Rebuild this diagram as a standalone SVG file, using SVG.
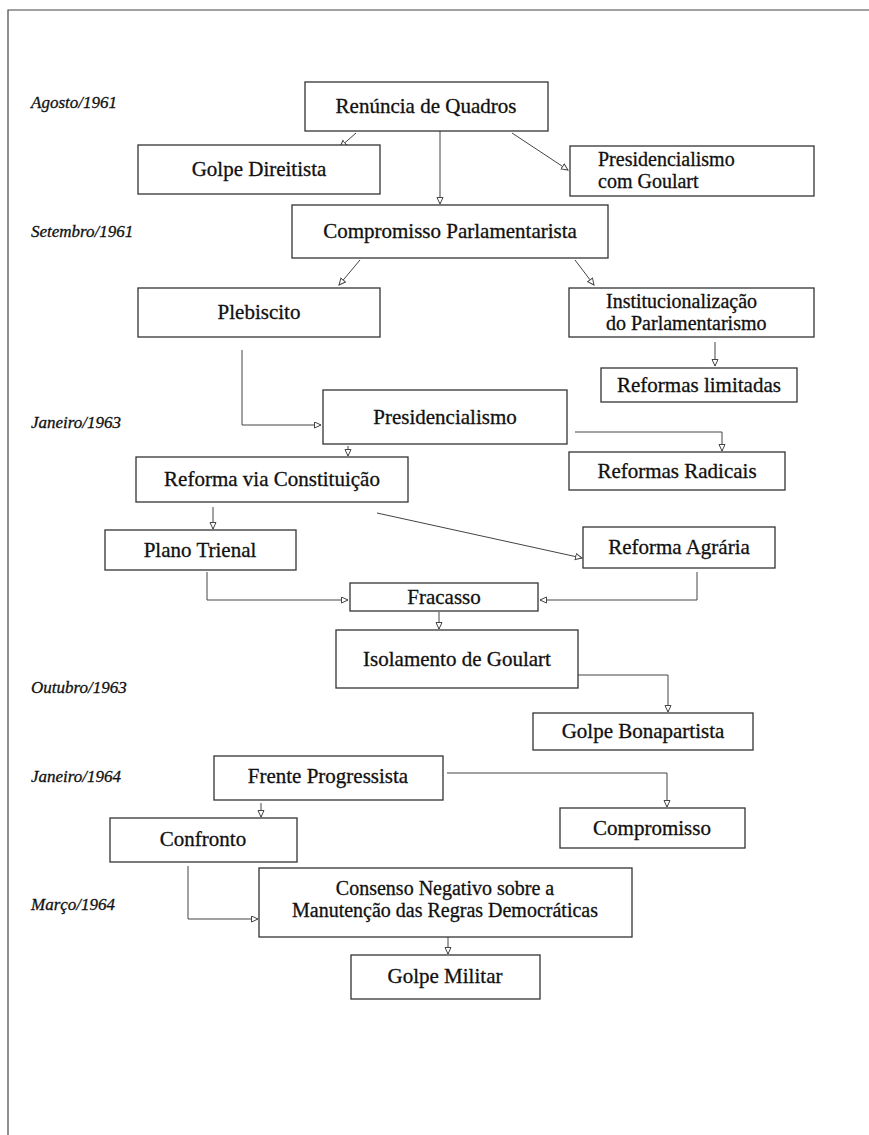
<svg xmlns="http://www.w3.org/2000/svg" width="869" height="1135" viewBox="0 0 869 1135">
<style>
.box{fill:#fff;stroke:#333;stroke-width:1.3}
.lbl{font-family:"Liberation Serif","DejaVu Serif",serif;font-size:21px;fill:#111;stroke:#111;stroke-width:0.3;text-anchor:middle}
.lbl2{font-family:"Liberation Serif","DejaVu Serif",serif;font-size:20px;fill:#111;stroke:#111;stroke-width:0.3}
.lbl3{font-family:"Liberation Serif","DejaVu Serif",serif;font-size:20px;fill:#111;stroke:#111;stroke-width:0.3;text-anchor:middle}
.date{font-family:"Liberation Serif","DejaVu Serif",serif;font-size:17px;font-style:italic;fill:#111;stroke:#111;stroke-width:0.3}
.con{fill:none;stroke:#444;stroke-width:1;marker-end:url(#arr)}
</style>
<defs>
<marker id="arr" markerWidth="8" markerHeight="8" refX="7" refY="3.5" orient="auto" markerUnits="userSpaceOnUse">
<path d="M0.5,0.5 L7,3.5 L0.5,6.5 z" fill="#fff" stroke="#444" stroke-width="1"/>
</marker>
</defs>
<rect width="869" height="1135" fill="#fff"/>
<path d="M8,1135 V10 H869" fill="none" stroke="#444" stroke-width="1.2"/>
<g id="dates">
<text class="date" x="31" y="108">Agosto/1961</text>
<text class="date" x="31" y="237">Setembro/1961</text>
<text class="date" x="31" y="428">Janeiro/1963</text>
<text class="date" x="31" y="693">Outubro/1963</text>
<text class="date" x="31" y="782">Janeiro/1964</text>
<text class="date" x="31" y="910">Março/1964</text>
</g>
<g id="connectors">
<path class="con" d="M356,133 L340,147"/>
<path class="con" d="M440,131 V204"/>
<path class="con" d="M512,133 L568,170"/>
<path class="con" d="M360,260 L339,285"/>
<path class="con" d="M575,260 L594,285"/>
<path class="con" d="M242,350 V425 H321"/>
<path class="con" d="M715,342 V366"/>
<path class="con" d="M575,432 H722 V451"/>
<path class="con" d="M348,446 V456"/>
<path class="con" d="M213,507 V529"/>
<path class="con" d="M377,513 L582,558"/>
<path class="con" d="M207,572 V600 H348"/>
<path class="con" d="M697,572 V600 H540"/>
<path class="con" d="M439,612 V629"/>
<path class="con" d="M577,675 H668 V712"/>
<path class="con" d="M447,773 H667 V807"/>
<path class="con" d="M261,803 V817"/>
<path class="con" d="M188,866 V919 H258"/>
<path class="con" d="M448,937 V954"/>
</g>
<g id="n1"><rect class="box" x="305" y="82" width="243" height="49"/><text class="lbl" x="426" y="113">Renúncia de Quadros</text></g>
<g id="n2"><rect class="box" x="138" y="145" width="242" height="49"/><text class="lbl" x="259" y="176">Golpe Direitista</text></g>
<g id="n3"><rect class="box" x="570" y="146" width="244" height="50"/><text class="lbl2" x="598" y="166">Presidencialismo</text><text class="lbl2" x="598" y="188">com Goulart</text></g>
<g id="n4"><rect class="box" x="292" y="205" width="316" height="53"/><text class="lbl" x="450" y="238">Compromisso Parlamentarista</text></g>
<g id="n5"><rect class="box" x="138" y="288" width="242" height="49"/><text class="lbl" x="259" y="319">Plebiscito</text></g>
<g id="n6"><rect class="box" x="569" y="288" width="245" height="49"/><text class="lbl2" x="606" y="308">Institucionalização</text><text class="lbl2" x="606" y="330">do Parlamentarismo</text></g>
<g id="n7"><rect class="box" x="601" y="368" width="196" height="34"/><text class="lbl" x="699" y="392">Reformas limitadas</text></g>
<g id="n8"><rect class="box" x="323" y="390" width="244" height="54"/><text class="lbl" x="445" y="424">Presidencialismo</text></g>
<g id="n9"><rect class="box" x="569" y="452" width="216" height="38"/><text class="lbl" x="677" y="478">Reformas Radicais</text></g>
<g id="n10"><rect class="box" x="136" y="457" width="272" height="45"/><text class="lbl" x="272" y="486">Reforma via Constituição</text></g>
<g id="n11"><rect class="box" x="105" y="530" width="191" height="40"/><text class="lbl" x="200" y="557">Plano Trienal</text></g>
<g id="n12"><rect class="box" x="583" y="527" width="192" height="41"/><text class="lbl" x="679" y="554">Reforma Agrária</text></g>
<g id="n13"><rect class="box" x="350" y="583" width="188" height="28"/><text class="lbl" x="444" y="604">Fracasso</text></g>
<g id="n14"><rect class="box" x="336" y="630" width="242" height="58"/><text class="lbl" x="457" y="666">Isolamento de Goulart</text></g>
<g id="n15"><rect class="box" x="533" y="713" width="220" height="37"/><text class="lbl" x="643" y="738">Golpe Bonapartista</text></g>
<g id="n16"><rect class="box" x="214" y="756" width="229" height="44"/><text class="lbl" x="328" y="783">Frente Progressista</text></g>
<g id="n17"><rect class="box" x="560" y="808" width="185" height="40"/><text class="lbl" x="652" y="835">Compromisso</text></g>
<g id="n18"><rect class="box" x="110" y="818" width="187" height="44"/><text class="lbl" x="203" y="846">Confronto</text></g>
<g id="n19"><rect class="box" x="259" y="868" width="373" height="69"/><text class="lbl3" x="445" y="895">Consenso Negativo sobre a</text><text class="lbl3" x="445" y="917">Manutenção das Regras Democráticas</text></g>
<g id="n20"><rect class="box" x="351" y="955" width="189" height="44"/><text class="lbl" x="445" y="983">Golpe Militar</text></g>
</svg>
